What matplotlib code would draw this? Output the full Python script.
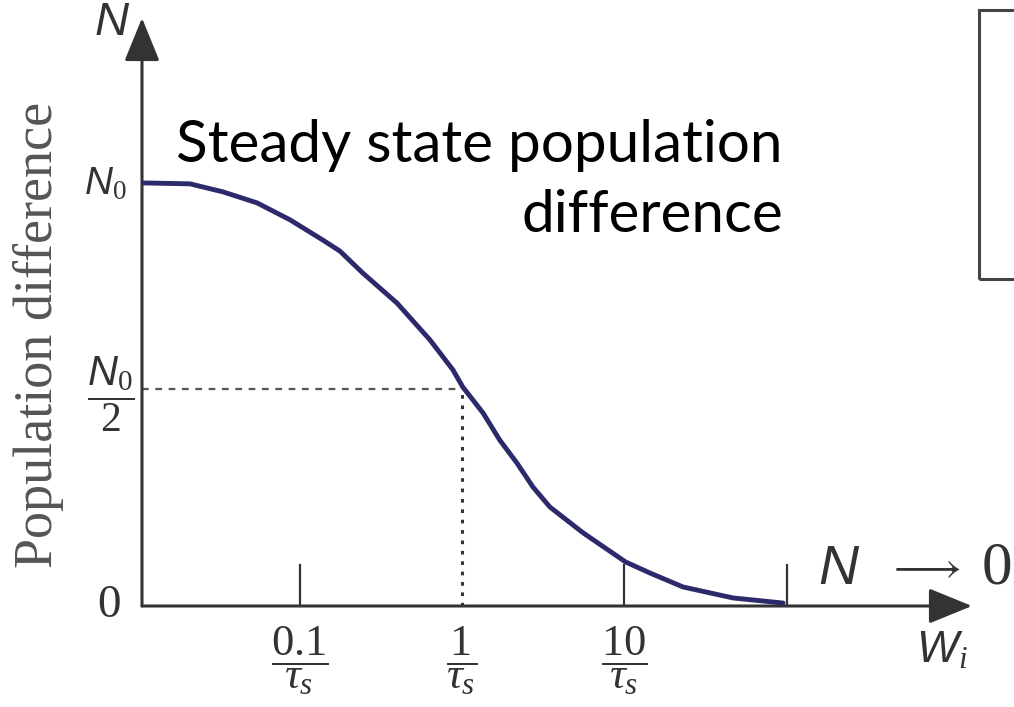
import matplotlib
matplotlib.use("Agg")
import matplotlib.pyplot as plt
from matplotlib.patches import Rectangle

plt.rcParams['mathtext.fontset'] = 'custom'
plt.rcParams['mathtext.rm'] = 'Liberation Serif'
plt.rcParams['mathtext.it'] = 'Liberation Serif:italic'
plt.rcParams['mathtext.sf'] = 'Liberation Sans:italic'
plt.rcParams['mathtext.bf'] = 'Liberation Serif:bold'
plt.rcParams['mathtext.fallback'] = 'stix'

#%% Data (W in units of 1/tau_s, N in units of N0)
w_vals = [0.0107, 0.0115, 0.0211, 0.0337, 0.0546, 0.0871, 0.139, 0.177, 0.245,
          0.398, 0.635, 0.880, 1.01, 1.35, 1.71, 2.18, 2.74, 3.48, 5.57,
          10.2, 14.4, 23.0, 46.8, 95.1]
n_vals = [1.0, 1.0, 0.998, 0.979, 0.953, 0.913, 0.865, 0.839, 0.787,
          0.716, 0.629, 0.558, 0.518, 0.456, 0.392, 0.338, 0.281, 0.234, 0.173,
          0.104, 0.078, 0.045, 0.019, 0.007]
half_point = (1.0, 0.513)
tick_pos = [0.1, 1, 10]
tick_labels = [r'$\dfrac{0.1}{\tau_s}$', r'$\dfrac{1}{\tau_s}$', r'$\dfrac{10}{\tau_s}$']
extra_tick = 100

W, H = 1014, 707
def fx(px):
    return px / W
def fy(py):
    return 1 - py / H

axis_col = '#333333'
curve_col = '#2d2a6b'

fig = plt.figure(figsize=(10.14, 7.07), dpi=100)
ax = fig.add_axes([fx(142), fy(606), (972 - 142) / W, (606 - 18) / H])
ax.set_xscale('log')
ax.set_xlim(10 ** ((142 - 462) / 162.3), 10 ** ((972 - 462) / 162.3))
ax.set_ylim(0, (606 - 18) / 423)
ax.axis('off')

# axes with arrows
arr = dict(arrowstyle='-|>,head_length=1.35,head_width=0.55', color=axis_col,
           lw=2.2, shrinkA=0, shrinkB=0, mutation_scale=20)
ax.annotate('', xy=(1, 0), xytext=(0, 0), xycoords='axes fraction', arrowprops=arr)
ax.annotate('', xy=(0, 1), xytext=(0, 0), xycoords='axes fraction', arrowprops=arr)

# curve
ax.plot(w_vals, n_vals, color=curve_col, lw=3.5, solid_capstyle='round',
        solid_joinstyle='round', zorder=3)

# dashed guides to half point
ax.plot([ax.get_xlim()[0], half_point[0]], [half_point[1], half_point[1]],
        ls=(0, (3, 3)), color='#555555', lw=1.6)
ax.plot([half_point[0], half_point[0]], [0, half_point[1]],
        ls=(0, (1.2, 2.2)), color='#333333', lw=2.2)

# tick marks
for t in [0.1, 10, extra_tick]:
    ax.plot([t, t], [0, 0.097], color=axis_col, lw=1.6)

# x tick labels
for t, lab in zip(tick_pos, tick_labels):
    ax.text(t, -0.13, lab, ha='center', va='center', fontsize=32, color='#333333')

# y tick labels
ax.text(-0.018, 1.0, r'$\mathsf{N}_0$', transform=ax.get_yaxis_transform(),
        ha='right', va='center', fontsize=28, color='#333333')
ax.text(-0.038, half_point[1] - 0.012, r'$\dfrac{\mathsf{N}_0}{2}$', transform=ax.get_yaxis_transform(),
        ha='center', va='center', fontsize=30, color='#333333')
ax.text(-0.04, 0.0, '0', transform=ax.get_yaxis_transform(), ha='center', va='center',
        fontsize=34, family='Liberation Serif', color='#333333')

# axis names
fig.text(fx(112), fy(23), 'N', fontsize=34, family='Liberation Sans', style='italic',
         ha='center', va='center', color='#333333')
fig.text(fx(942), fy(650), r'$\mathsf{W}_i$', fontsize=32, ha='center', va='center',
         color='#333333')
fig.text(fx(39), fy(335), 'Population difference', rotation=90, fontsize=39,
         family='Liberation Serif', ha='center', va='center', color='#555555')

# limit note: N -> 0
fig.text(fx(818), fy(584), 'N', fontsize=40, family='Liberation Sans', style='italic',
         ha='left', va='baseline', color='#333333')
fig.text(fx(924), fy(566), r'$\longrightarrow$', fontsize=31, ha='center', va='center',
         color='#333333')
fig.text(fx(1012), fy(584), '0', fontsize=44, family='Liberation Serif',
         ha='right', va='baseline', color='#333333')

# annotation
fig.text(fx(783), fy(232), 'Steady state population\ndifference', fontsize=42,
         family='Lato', ha='right', va='baseline', linespacing=1.4, multialignment='right')

# partially cut box at the right
fig.patches.append(Rectangle((fx(979), fy(279)), fx(60), (279 - 10) / H,
                             transform=fig.transFigure, fill=False, ec='#444444', lw=2.2))

fig.savefig('out.png', dpi=100)
